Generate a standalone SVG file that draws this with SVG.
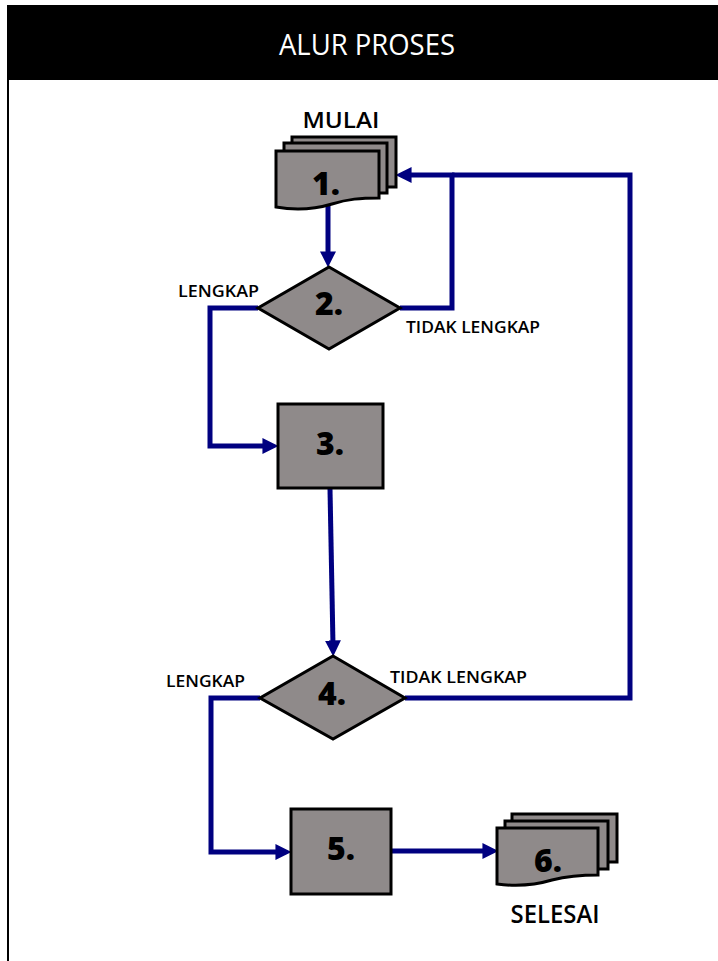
<svg xmlns="http://www.w3.org/2000/svg" width="718" height="961" viewBox="0 0 718 961">
<style>
.shape{fill:#8f8a8a;stroke:#000;stroke-width:3;stroke-linejoin:miter}
.num{font-family:"Open Sans","Liberation Sans",Arial,sans-serif;font-weight:800;font-size:32px;fill:#000;text-anchor:middle}
.lbl{font-family:"Open Sans","Liberation Sans",sans-serif;font-weight:600;font-size:16px;fill:#000}
.ttl{font-family:"Open Sans","Liberation Sans",sans-serif;font-weight:600;fill:#000}
.conn{fill:none;stroke:#000080;stroke-width:5;stroke-linejoin:miter}
</style>
<defs>
<marker id="arr" markerUnits="userSpaceOnUse" markerWidth="16" markerHeight="16" refX="4" refY="7" orient="auto" viewBox="0 0 14 14">
<path d="M0,0 L14,7 L0,14 Z" fill="#000080"/>
</marker>
</defs>
<rect width="718" height="961" fill="#fff"/>
<g id="header">
<rect x="7" y="5" width="711" height="75" fill="#000"/>
<line x1="8" y1="80" x2="8" y2="961" stroke="#000" stroke-width="2"/>
<text x="367" y="55" text-anchor="middle" font-family="Open Sans, Liberation Sans, sans-serif" font-size="29" fill="#fff" textLength="176" lengthAdjust="spacingAndGlyphs">ALUR PROSES</text>
</g>
<g id="connectors">
<path class="conn" d="M328,206 V256" marker-end="url(#arr)"/>
<path class="conn" d="M258,308 H210 V446 H267" marker-end="url(#arr)"/>
<path class="conn" d="M400,308 H452 V175 H407" marker-end="url(#arr)"/>
<path class="conn" d="M405,698 H630 V175 H452"/>
<path class="conn" d="M330,489 L333,645" marker-end="url(#arr)"/>
<path class="conn" d="M260,698 H211 V852 H280" marker-end="url(#arr)"/>
<path class="conn" d="M391,851 H487" marker-end="url(#arr)"/>
</g>
<g id="node1">
<text class="ttl" x="341" y="128" font-size="22" text-anchor="middle" textLength="77" lengthAdjust="spacingAndGlyphs">MULAI</text>
<rect class="shape" x="292" y="137" width="104" height="50"/>
<rect class="shape" x="284" y="143" width="103" height="50"/>
<path class="shape" d="M276,151 H379 V198 C360,198 348,199 332,204 C312,210 292,210 276,207 Z"/>
<text class="num" x="326" y="195">1.</text>
</g>
<g id="node2">
<path class="shape" d="M329,267 L400,308 L329,349 L258,308 Z"/>
<text class="num" x="329" y="315">2.</text>
<text class="lbl" x="178" y="297" textLength="81" lengthAdjust="spacingAndGlyphs">LENGKAP</text>
<text class="lbl" x="406" y="333" textLength="134" lengthAdjust="spacingAndGlyphs">TIDAK LENGKAP</text>
</g>
<g id="node3">
<rect class="shape" x="278" y="404" width="105" height="84"/>
<text class="num" x="330" y="455">3.</text>
</g>
<g id="node4">
<path class="shape" d="M333,656 L405,698 L333,739 L260,698 Z"/>
<text class="num" x="332" y="705">4.</text>
<text class="lbl" x="166" y="687" textLength="79" lengthAdjust="spacingAndGlyphs">LENGKAP</text>
<text class="lbl" x="390" y="683" textLength="137" lengthAdjust="spacingAndGlyphs">TIDAK LENGKAP</text>
</g>
<g id="node5">
<rect class="shape" x="291" y="809" width="100" height="85"/>
<text class="num" x="341" y="860">5.</text>
</g>
<g id="node6">
<rect class="shape" x="512" y="814" width="105" height="48"/>
<rect class="shape" x="505" y="821" width="103" height="48"/>
<path class="shape" d="M497,828 H598 V875 C580,875 568,876 552,880 C532,886 512,886 497,884 Z"/>
<text class="num" x="548" y="872">6.</text>
<text class="ttl" x="555" y="923" font-size="25" text-anchor="middle" textLength="89" lengthAdjust="spacingAndGlyphs">SELESAI</text>
</g>
</svg>
